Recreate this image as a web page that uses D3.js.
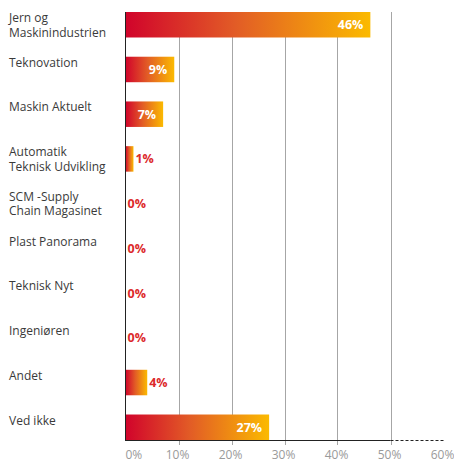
<!DOCTYPE html>
<html>
<head>
<meta charset="utf-8">
<script src="https://cdn.jsdelivr.net/npm/d3@7"></script>
<style>
  body { margin: 0; background: #fff; }
  svg { display: block; font-family: "Open Sans", sans-serif; }
</style>
</head>
<body>
<svg id="chart" width="454" height="461"></svg>
<script>
// survey answers, share of respondents
let categories = [
    ["Jern og", "Maskinindustrien"],
    ["Teknovation"],
    ["Maskin Aktuelt"],
    ["Automatik", "Teknisk Udvikling"],
    ["SCM -Supply", "Chain Magasinet"],
    ["Plast Panorama"],
    ["Teknisk Nyt"],
    ["Ingeniøren"],
    ["Andet"],
    ["Ved ikke"]
];
let values = [46.2, 9.2, 7.1, 1.5, 0, 0, 0, 0, 4.1, 27.1];
let valueLabels = ["46%", "9%", "7%", "1%", "0%", "0%", "0%", "0%", "4%", "27%"];
let tickValues = [0, 10, 20, 30, 40, 50, 60];

let svg = d3.select("#chart");
let plotLeft = 125.5, plotTop = 12, plotBottom = 440;

let x = d3.scaleLinear().domain([0, 60]).range([plotLeft, plotLeft + 318]);
let y = d3.scaleBand()
    .domain(d3.range(values.length))
    .range([plotTop, plotBottom])
    .paddingInner(0.43)
    .paddingOuter(0);

// gradient for the bars
let grad = svg.append("defs").append("linearGradient")
    .attr("id", "barGrad")
    .attr("x1", "0").attr("x2", "1").attr("y1", "0").attr("y2", "0");
grad.append("stop").attr("offset", "0%").attr("stop-color", "#d1032b");
grad.append("stop").attr("offset", "45%").attr("stop-color", "#e25c26");
grad.append("stop").attr("offset", "100%").attr("stop-color", "#fbba00");

// grid lines
svg.append("g")
    .selectAll("line")
    .data(tickValues.filter(d => d > 0 && d < 60))
    .enter()
    .append("line")
    .attr("x1", d => Math.round(x(d)) + 0.5)
    .attr("x2", d => Math.round(x(d)) + 0.5)
    .attr("y1", plotTop)
    .attr("y2", plotBottom + 5)
    .attr("stroke", "#a6a6a6")
    .attr("stroke-width", 1);

// bars
svg.append("g")
    .selectAll("rect")
    .data(values)
    .enter()
    .append("rect")
    .attr("x", plotLeft)
    .attr("y", (d, i) => y(i))
    .attr("width", d => x(d) - plotLeft)
    .attr("height", y.bandwidth())
    .attr("fill", "url(#barGrad)");

// axis lines
svg.append("line")
    .attr("x1", plotLeft).attr("x2", plotLeft)
    .attr("y1", plotTop).attr("y2", plotBottom + 1)
    .attr("stroke", "#222").attr("stroke-width", 1);
svg.append("line")
    .attr("x1", plotLeft).attr("x2", x(50))
    .attr("y1", plotBottom + 0.5).attr("y2", plotBottom + 0.5)
    .attr("stroke", "#222").attr("stroke-width", 1);
svg.append("line")
    .attr("x1", x(50)).attr("x2", x(60))
    .attr("y1", plotBottom + 0.5).attr("y2", plotBottom + 0.5)
    .attr("stroke", "#222").attr("stroke-width", 1)
    .attr("stroke-dasharray", "3,2");

// tick labels
svg.append("g")
    .selectAll("text")
    .data(tickValues)
    .enter()
    .append("text")
    .attr("x", d => d === 0 ? plotLeft : x(d) - 1)
    .attr("y", 459)
    .attr("text-anchor", d => d === 0 ? "start" : "middle")
    .attr("font-size", 12)
    .attr("fill", "#9a9a9a")
    .text(d => d + "%");

// category labels
let cat = svg.append("g")
    .selectAll("text")
    .data(categories)
    .enter()
    .append("text")
    .attr("x", 9)
    .attr("y", (d, i) => y(i) + 10)
    .attr("font-size", 12)
    .attr("fill", "#3a3a3a");
cat.selectAll("tspan")
    .data(d => d)
    .enter()
    .append("tspan")
    .attr("x", 9)
    .attr("dy", (d, j) => j === 0 ? 0 : 14.5)
    .text(d => d);

// value labels
svg.append("g")
    .selectAll("text")
    .data(values)
    .enter()
    .append("text")
    .attr("x", d => d >= 5 ? x(d) - 7 : x(d) + 2)
    .attr("y", (d, i) => y(i) + y.bandwidth() / 2 + 4.5)
    .attr("text-anchor", d => d >= 5 ? "end" : "start")
    .attr("font-size", 12.5)
    .attr("font-weight", "bold")
    .attr("fill", d => d >= 5 ? "#fff" : "#dc2a2b")
    .text((d, i) => valueLabels[i]);
</script>
</body>
</html>
